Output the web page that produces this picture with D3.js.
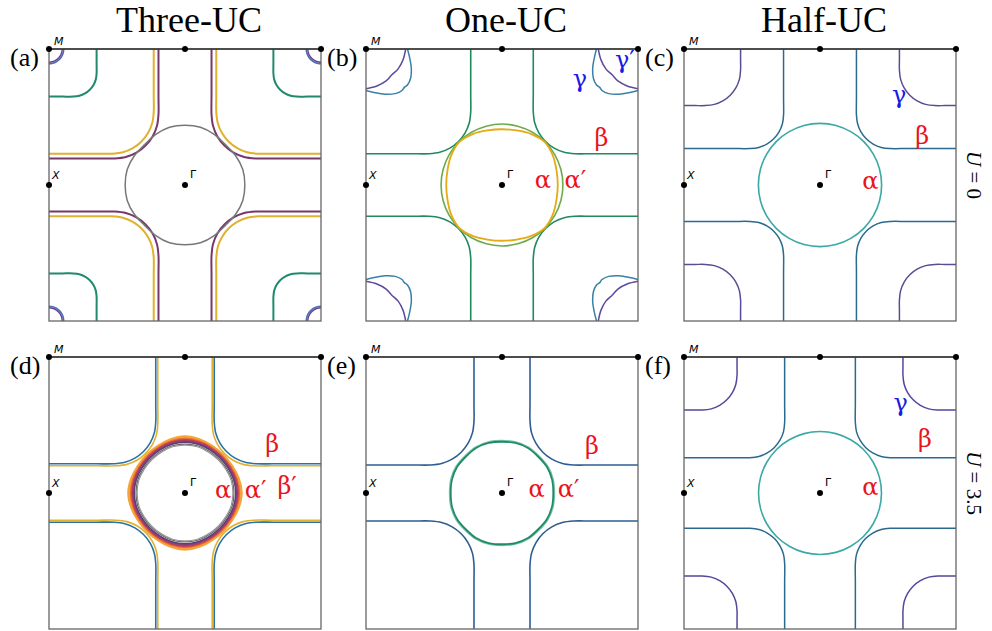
<!DOCTYPE html>
<html>
  <head>
    <meta charset="UTF-8" />
    <title>Fermi surfaces</title>
    <style>
      body { margin: 0; background: #fff; }
      .title { font-family: 'Liberation Serif', 'DejaVu Serif', serif; font-size: 36px; }
      .letter { font-family: 'Liberation Serif', 'DejaVu Serif', serif; font-size: 26px; }
      .band { font-family: 'DejaVu Serif', serif; font-size: 24px; }
      .kpt { font-family: 'DejaVu Sans', sans-serif; font-size: 11px; }
      .ulabel { font-family: 'Liberation Serif', 'DejaVu Serif', serif; font-size: 21px; }
    </style>
  </head>
  <body>
    <svg width="992" height="631"></svg>
    <script src="https://cdn.jsdelivr.net/npm/d3@7"></script>
    <script>
      const svg = d3.select('svg');

      // column titles and panel letters
      const titles = ['Three-UC', 'One-UC', 'Half-UC'];
      const letters = ['(a)', '(b)', '(c)', '(d)', '(e)', '(f)'];
      const uLabels = ['U = 0', 'U = 3.5'];

      // beta sheets: one octant, from the zone edge to the diagonal (units of pi)
      const betaA1 = [[0.195, 1], [0.195, 0.8], [0.195, 0.65], [0.195, 0.519], [0.206, 0.435], [0.238, 0.357], [0.29, 0.29]];
      const betaA2 = [[0.23, 1], [0.23, 0.8], [0.23, 0.66], [0.23, 0.537], [0.2405, 0.4576], [0.2711, 0.3835], [0.32, 0.32]];
      const betaB = [[0.23, 1], [0.23, 0.8], [0.23, 0.66], [0.23, 0.537], [0.2405, 0.4576], [0.2711, 0.3835], [0.32, 0.32]];
      const betaC = [[0.268, 1], [0.268, 0.8], [0.268, 0.64], [0.268, 0.514], [0.2764, 0.4503], [0.301, 0.391], [0.34, 0.34]];
      const betaD1 = [[0.215, 1], [0.215, 0.8], [0.215, 0.65], [0.215, 0.522], [0.2255, 0.4426], [0.2561, 0.3685], [0.305, 0.305]];
      const betaD2 = [[0.2, 1], [0.2, 0.8], [0.2, 0.64], [0.2, 0.507], [0.2105, 0.4276], [0.2411, 0.3535], [0.29, 0.29]];
      const betaE = [[0.206, 1], [0.206, 0.8], [0.206, 0.65], [0.206, 0.527], [0.2169, 0.444], [0.249, 0.3665], [0.3, 0.3]];
      const betaF = [[0.26, 1], [0.26, 0.8], [0.26, 0.65], [0.26, 0.516], [0.2687, 0.4497], [0.2943, 0.388], [0.335, 0.335]];

      // corner pockets around M: distance from the corner, edge to diagonal
      const gammaA = [[0.35, 0], [0.35, 0.1], [0.35, 0.179], [0.3442, 0.2233], [0.3271, 0.2645], [0.3, 0.3]];
      const gammaB = [[0.305, 0], [0.32, 0.06], [0.333, 0.14], [0.328, 0.215], [0.305, 0.265], [0.282, 0.282]];
      const gammaB2 = [[0.292, 0], [0.272, 0.08], [0.235, 0.148], [0.19, 0.19]];
      const gammaC = [[0.416, 0], [0.416, 0.08], [0.416, 0.156], [0.4071, 0.2233], [0.3812, 0.286], [0.34, 0.34]];
      const gammaF = [[0.39, 0], [0.39, 0.07], [0.39, 0.134], [0.3813, 0.2003], [0.3557, 0.262], [0.315, 0.315]];

      // closed rings: radius at 0, 15, 30, 45 degrees
      const ringA = [0.44, 0.44, 0.43, 0.42];
      const cornerA1 = [0.108, 0.108, 0.108, 0.108];
      const cornerA2 = [0.097, 0.097, 0.097, 0.097];
      const ringB1 = [0.448, 0.448, 0.448, 0.448];
      const ringB2 = [0.41, 0.415, 0.432, 0.445];
      const ringC = [0.453, 0.453, 0.453, 0.453];
      const ringD = [
        [0.412, 0.405, 0.395, 0.392],
        [0.398, 0.394, 0.387, 0.385],
        [0.389, 0.386, 0.38, 0.378],
        [0.381, 0.378, 0.373, 0.371],
        [0.373, 0.371, 0.366, 0.364],
      ];
      const ringD0 = [[0.36, 0.36, 0.355, 0.353], [0.352, 0.352, 0.347, 0.345]];
      const ringE = [[0.386, 0.39, 0.391, 0.386], [0.377, 0.381, 0.382, 0.377]];
      const ringF = [0.452, 0.452, 0.452, 0.452];

      // band labels: text, kx, ky (units of pi), colour
      const bandLabels = [
        [],
        [['γ', 0.52, 0.72, 'b'], ['γ′', 0.83, 0.86, 'b'], ['β', 0.68, 0.29, 'r'], ['α', 0.24, -0.02, 'r'], ['α′', 0.46, -0.02, 'r']],
        [['γ', 0.53, 0.6, 'b'], ['β', 0.7, 0.3, 'r'], ['α', 0.31, -0.03, 'r']],
        [['β', 0.59, 0.3, 'r'], ['β′', 0.68, -0.01, 'r'], ['α', 0.22, -0.04, 'r'], ['α′', 0.44, -0.04, 'r']],
        [['β', 0.61, 0.29, 'r'], ['α', 0.195, -0.03, 'r'], ['α′', 0.41, -0.03, 'r']],
        [['γ', 0.54, 0.6, 'b'], ['β', 0.72, 0.34, 'r'], ['α', 0.31, -0.015, 'r']],
      ];

      const labelColor = { r: '#e8141c', b: '#1a1ae6' };
      const size = 272;
      const colX = [49, 366, 684];
      const rowY = [49, 357];

      const panels = [
        { curves: [
          { kind: 'pocket', d: gammaA, c: '#1f8a6c', w: 2 },
          { kind: 'corner', d: cornerA1, c: '#4470b4', w: 1.6 },
          { kind: 'corner', d: cornerA2, c: '#6a3f8c', w: 1.4 },
          { kind: 'beta', d: betaA2, c: '#e2b02e', w: 2 },
          { kind: 'beta', d: betaA1, c: '#76386c', w: 2 },
          { kind: 'ring', d: ringA, c: '#777', w: 1.5 },
        ] },
        { curves: [
          { kind: 'pocket', d: gammaB2, c: '#5d4a9c', w: 1.5 },
          { kind: 'pocket', d: gammaB, c: '#3a7fa6', w: 1.5 },
          { kind: 'beta', d: betaB, c: '#1f8a5e', w: 1.6 },
          { kind: 'ring', d: ringB1, c: '#6cab4c', w: 1.6 },
          { kind: 'ring', d: ringB2, c: '#e5aa14', w: 1.8 },
        ] },
        { curves: [
          { kind: 'pocket', d: gammaC, c: '#5b4b93', w: 1.5 },
          { kind: 'beta', d: betaC, c: '#2b6a8f', w: 1.5 },
          { kind: 'ring', d: ringC, c: '#3aa8a5', w: 1.6 },
        ] },
        { curves: [
          { kind: 'beta', d: betaD1, c: '#2b72a3', w: 1.6 },
          { kind: 'beta', d: betaD2, c: '#e2b22e', w: 1.6 },
          { kind: 'ring', d: ringD[0], c: '#f5a43c', w: 3.5 },
          { kind: 'ring', d: ringD[1], c: '#e8702f', w: 2 },
          { kind: 'ring', d: ringD[2], c: '#c8404a', w: 2 },
          { kind: 'ring', d: ringD[3], c: '#8d3f84', w: 2 },
          { kind: 'ring', d: ringD[4], c: '#5e3f74', w: 1.5 },
          { kind: 'ring', d: ringD0[0], c: '#666', w: 1.2 },
          { kind: 'ring', d: ringD0[1], c: '#999', w: 1.2 },
        ] },
        { curves: [
          { kind: 'beta', d: betaE, c: '#2f5d92', w: 1.6 },
          { kind: 'ring', d: ringE[0], c: '#7cc0b0', w: 1.3 },
          { kind: 'ring', d: ringE[1], c: '#1d8c65', w: 1.8 },
        ] },
        { curves: [
          { kind: 'pocket', d: gammaF, c: '#56479a', w: 1.5 },
          { kind: 'beta', d: betaF, c: '#2b6a8f', w: 1.5 },
          { kind: 'ring', d: ringF, c: '#3aa8a5', w: 1.6 },
        ] },
      ];

      const signs = [[1, 1], [-1, 1], [-1, -1], [1, -1]];

      // octant -> quadrant by reflecting across the diagonal
      const quadrant = (pts) =>
        pts.concat(pts.slice(0, -1).reverse().map(([a, b]) => [b, a]));

      const ringPoints = (radii) => {
        const pts = [];
        for (let deg = 0; deg < 360; deg += 15) {
          const m = deg % 90;
          const r = m <= 45 ? radii[m / 15] : radii[(90 - m) / 15];
          const t = (deg * Math.PI) / 180;
          pts.push([r * Math.cos(t), r * Math.sin(t)]);
        }
        return pts;
      };

      const defs = svg.append('defs');

      panels.forEach((p, i) => {
        const col = i % 3;
        const row = Math.floor(i / 3);
        const x0 = colX[col];
        const y0 = rowY[row];
        const x = d3.scaleLinear().domain([-1, 1]).range([x0, x0 + size]);
        const y = d3.scaleLinear().domain([-1, 1]).range([y0 + size, y0]);

        defs.append('clipPath').attr('id', 'clip' + i)
          .append('rect').attr('x', x0).attr('y', y0).attr('width', size).attr('height', size);

        const g = svg.append('g');
        const cg = g.append('g').attr('clip-path', `url(#clip${i})`);

        const open = d3.line().x((d) => x(d[0])).y((d) => y(d[1]))
          .curve(d3.curveCatmullRom.alpha(0.5));
        const closed = d3.line().x((d) => x(d[0])).y((d) => y(d[1]))
          .curve(d3.curveCatmullRomClosed.alpha(0.5));

        p.curves.forEach((c) => {
          let paths = [];
          if (c.kind === 'beta') {
            const q = quadrant(c.d);
            paths = signs.map(([sx, sy]) => [q.map(([a, b]) => [sx * a, sy * b]), false]);
          } else if (c.kind === 'pocket') {
            const q = quadrant(c.d);
            paths = signs.map(([sx, sy]) => [q.map(([a, b]) => [sx * (1 - b), sy * (1 - a)]), false]);
          } else if (c.kind === 'corner') {
            const r = ringPoints(c.d);
            paths = signs.map(([sx, sy]) => [r.map(([a, b]) => [sx + a, sy + b]), true]);
          } else {
            paths = [[ringPoints(c.d), true]];
          }
          paths.forEach(([pts, isClosed]) => {
            cg.append('path')
              .attr('d', isClosed ? closed(pts) : open(pts))
              .attr('fill', 'none')
              .attr('stroke', c.c)
              .attr('stroke-width', c.w);
          });
        });

        // zone frame
        g.append('rect').attr('x', x0).attr('y', y0).attr('width', size).attr('height', size)
          .attr('fill', 'none').attr('stroke', '#666').attr('stroke-width', 1.3);
        g.append('line').attr('x1', x(-1)).attr('x2', x(1)).attr('y1', y(1)).attr('y2', y(1))
          .attr('stroke', '#333').attr('stroke-width', 1.3);

        // high-symmetry points
        const dots = [[-1, 1], [0, 1], [1, 1], [-1, 0], [0, 0]];
        g.selectAll('circle.k').data(dots).enter().append('circle')
          .attr('cx', (d) => x(d[0])).attr('cy', (d) => y(d[1])).attr('r', 3).attr('fill', '#000');
        g.append('text').attr('class', 'kpt').attr('font-style', 'italic')
          .attr('x', x0 + 5).attr('y', y0 - 4).text('M');
        g.append('text').attr('class', 'kpt').attr('font-style', 'italic')
          .attr('x', x0 + 3).attr('y', y(0) - 6).text('X');
        g.append('text').attr('class', 'kpt')
          .attr('x', x(0) + 5).attr('y', y(0) - 7).text('Γ');

        g.append('text').attr('class', 'letter')
          .attr('x', x0 - 39).attr('y', y0 + 17).text(letters[i]);

        bandLabels[i].forEach(([t, kx, ky, col2]) => {
          g.append('text').attr('class', 'band')
            .attr('x', x(kx)).attr('y', y(ky))
            .attr('fill', labelColor[col2])
            .text(t);
        });
      });

      titles.forEach((t, i) => {
        svg.append('text').attr('class', 'title')
          .attr('x', colX[i] + size / 2 + 4).attr('y', 32)
          .attr('text-anchor', 'middle').text(t);
      });

      uLabels.forEach((t, i) => {
        const cy = rowY[i] + size / 2 - 10;
        const txt = svg.append('text').attr('class', 'ulabel')
          .attr('transform', `translate(967,${cy}) rotate(90)`)
          .attr('text-anchor', 'middle');
        txt.append('tspan').attr('font-style', 'italic').text('U');
        txt.append('tspan').text(t.slice(1));
      });
    </script>
  </body>
</html>
